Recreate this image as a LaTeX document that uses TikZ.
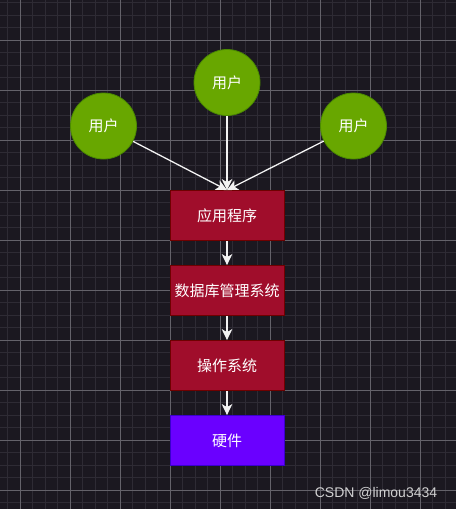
\documentclass[tikz,border=0pt]{standalone}
\usepackage{fontspec}
\newfontfamily\cjk{Noto Sans CJK SC}
\newfontfamily\wmfont{Liberation Sans}
\usetikzlibrary{arrows.meta}
\definecolor{bgc}{HTML}{1B1820}
\definecolor{minorc}{HTML}{2E2B34}
\definecolor{majorc}{HTML}{64626A}
\definecolor{userfill}{HTML}{68A700}
\definecolor{userline}{HTML}{4A8A00}
\definecolor{redfill}{HTML}{A00D2B}
\definecolor{redline}{HTML}{6F0000}
\definecolor{purfill}{HTML}{6A00FF}
\definecolor{purline}{HTML}{3A00CC}
\definecolor{arrowc}{HTML}{F2F2F2}
\tikzset{
  userstyle/.style={circle, draw=userline, fill=userfill, line width=0.8pt, minimum size=66pt, inner sep=0pt, text=white, font=\cjk\fontsize{15}{18}\selectfont},
  layerbox/.style={rectangle, draw=redline, fill=redfill, line width=0.8pt, minimum width=114pt, minimum height=50pt, inner sep=0pt, text=white, font=\cjk\fontsize{15}{18}\selectfont},
  hwbox/.style={layerbox, draw=purline, fill=purfill},
  conn/.style={draw=arrowc, line width=1.3pt, -{Stealth[length=11pt, width=10.5pt, inset=3pt]}},
}
\begin{document}
\begin{tikzpicture}[x=1pt,y=-1pt]
\fill[bgc] (0,0) rectangle (456,509);
\useasboundingbox (0,0) rectangle (456,509);
% minor grid
\foreach \i in {0,...,37} {
  \draw[minorc, line width=0.8pt] ({7.5+12.5*\i},0) -- ({7.5+12.5*\i},509);
}
\foreach \j in {0,...,40} {
  \draw[minorc, line width=0.8pt] (0,{2.5+12.5*\j}) -- (456,{2.5+12.5*\j});
}
% major grid
\foreach \i in {0,...,8} {
  \draw[majorc, line width=0.8pt] ({20+50*\i},0) -- ({20+50*\i},509);
}
\foreach \j in {0,...,9} {
  \draw[majorc, line width=0.8pt] (0,{40+50*\j}) -- (456,{40+50*\j});
}
% nodes
\node[userstyle] (u2) at (227,82.5) {用户};
\node[userstyle] (u1) at (103.5,126) {用户};
\node[userstyle] (u3) at (353.5,126) {用户};
\node[layerbox] (b1) at (227,215.5) {应用程序};
\node[layerbox] (b2) at (227,290.5) {数据库管理系统};
\node[layerbox] (b3) at (227,365.5) {操作系统};
\node[hwbox] (b4) at (227,440.5) {硬件};
% connectors
\draw[conn] (u1) -- (b1.north);
\draw[conn] (u2) -- (b1.north);
\draw[conn] (u3) -- (b1.north);
\draw[conn] (b1) -- (b2);
\draw[conn] (b2) -- (b3);
\draw[conn] (b3) -- (b4);
% watermark
\node[text=white!80!bgc, font=\wmfont\fontsize{14}{16}\selectfont, inner sep=0pt] (wm) at (376,493) {CSDN @limou3434};
\end{tikzpicture}
\end{document}
